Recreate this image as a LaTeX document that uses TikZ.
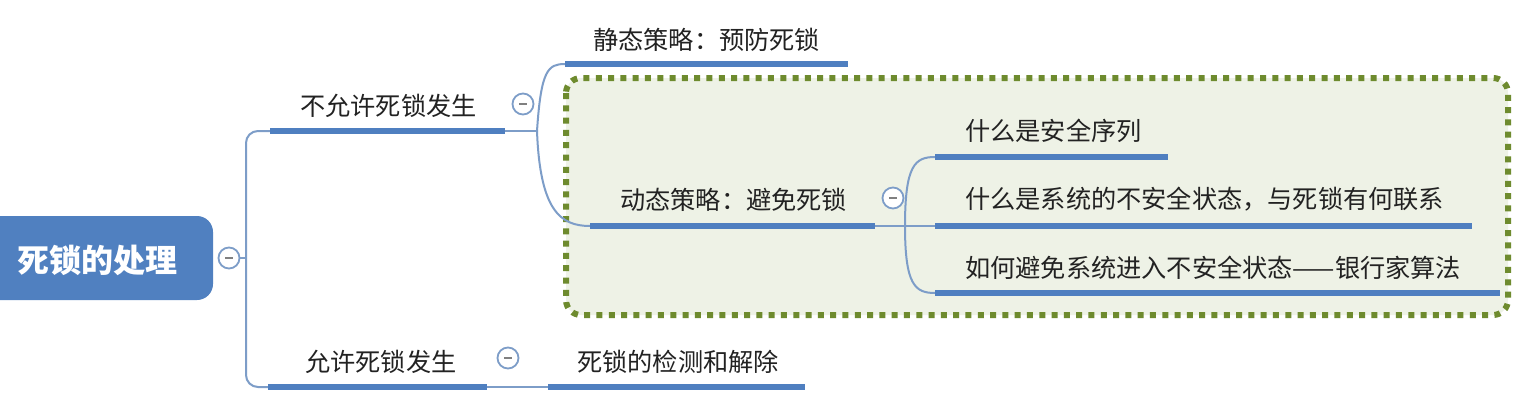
\documentclass[tikz,border=0pt]{standalone}
\usepackage{fontspec}
\newfontfamily\cjk{Noto Sans CJK SC}
\usetikzlibrary{calc}
\definecolor{ublue}{HTML}{4F7FC0}
\definecolor{cblue}{HTML}{7D9DC8}
\definecolor{rootblue}{HTML}{5080C0}
\definecolor{dgreen}{HTML}{6E8B2E}
\definecolor{lgreen}{HTML}{EEF2E6}
\definecolor{txt}{HTML}{222222}
\tikzset{
  topic/.style={anchor=west, inner sep=0pt, text=txt, font=\cjk\fontsize{25.2}{28}\selectfont},
  rootnode/.style={fill=rootblue, rounded corners=16pt, inner sep=0pt},
  uline/.style={draw=ublue, line width=5.5pt},
  conn/.style={draw=cblue, line width=2pt},
  fold/.style={circle, draw=cblue, line width=1.8pt, fill=white, minimum size=21pt, inner sep=0pt,
    path picture={\draw[gray, line width=2pt] ([xshift=-4pt]path picture bounding box.center) -- ([xshift=4pt]path picture bounding box.center);}},
  zone/.style={draw=dgreen, fill=lgreen, line width=6pt, dash pattern=on 6pt off 6.3pt, rounded corners=15pt}
}
\begin{document}
\begin{tikzpicture}[x=1pt,y=-1pt]
\useasboundingbox[fill=white] (0,0) rectangle (1514,412);
% dynamic-strategy zone
\path[zone] (566,78) rectangle (1508,315);

% root
\node[rootnode, minimum width=236pt, minimum height=84pt] (root) at (95,258) {};
\node[inner sep=0pt, text=white, font=\cjk\bfseries\fontsize{32}{36}\selectfont] (roottxt) at (97,260) {死锁的处理};
\node[fold] (f0) at (229,258) {};

% underline end coordinates
\coordinate (s1l) at (270,131); \coordinate (s1r) at (505,131);
\coordinate (s2l) at (268,387); \coordinate (s2r) at (487,387);
\coordinate (t1l) at (565,64);  \coordinate (t1r) at (848,64);
\coordinate (t2l) at (590,226); \coordinate (t2r) at (875,226);
\coordinate (u1l) at (935,157); \coordinate (u1r) at (1168,157);
\coordinate (u2l) at (935,226); \coordinate (u2r) at (1472,226);
\coordinate (u3l) at (935,293); \coordinate (u3r) at (1500,293);
\coordinate (d1l) at (548,387); \coordinate (d1r) at (805,387);
\coordinate (j0) at (246,258);
\coordinate (j1) at (537,131);
\coordinate (j2) at (905,226);

% connectors
\draw[conn] (f0.east) -- (j0);
\draw[conn, rounded corners=12pt] (s1l) -- (246,131) -- (246,387) -- (s2l);
\draw[conn] (s1r) -- (j1);
\draw[conn] (j1) .. controls (541,70) and (548,64) .. (t1l);
\draw[conn] (j1) .. controls (540,210) and (560,226) .. (t2l);
\draw[conn] (t2r) -- (u2l);
\draw[conn] (j2) .. controls (905,165) and (915,157) .. (u1l);
\draw[conn] (j2) .. controls (905,285) and (915,293) .. (u3l);
\draw[conn] (s2r) -- (d1l);

% underlines
\draw[uline] (s1l) -- (s1r);
\draw[uline] (s2l) -- (s2r);
\draw[uline] (t1l) -- (t1r);
\draw[uline] (t2l) -- (t2r);
\draw[uline] (u1l) -- (u1r);
\draw[uline] (u2l) -- (u2r);
\draw[uline] (u3l) -- (u3r);
\draw[uline] (d1l) -- (d1r);

% fold markers
\node[fold] (f1) at (523,104) {};
\node[fold] (f2) at (893,198) {};
\node[fold] (f3) at (508,358) {};

% texts
\node[topic] (s1) at (300,106) {不允许死锁发生};
\node[topic] (s2) at (305,362) {允许死锁发生};
\node[topic] (t1) at (593,40) {静态策略：预防死锁};
\node[topic] (t2) at (620,200) {动态策略：避免死锁};
\node[topic] (u1) at (965,131) {什么是安全序列};
\node[topic] (u2) at (965,199) {什么是系统的不安全状态，与死锁有何联系};
\node[topic] (u3) at (965,268) {如何避免系统进入不安全状态——银行家算法};
\node[topic] (d1) at (577,362) {死锁的检测和解除};
\end{tikzpicture}
\end{document}
